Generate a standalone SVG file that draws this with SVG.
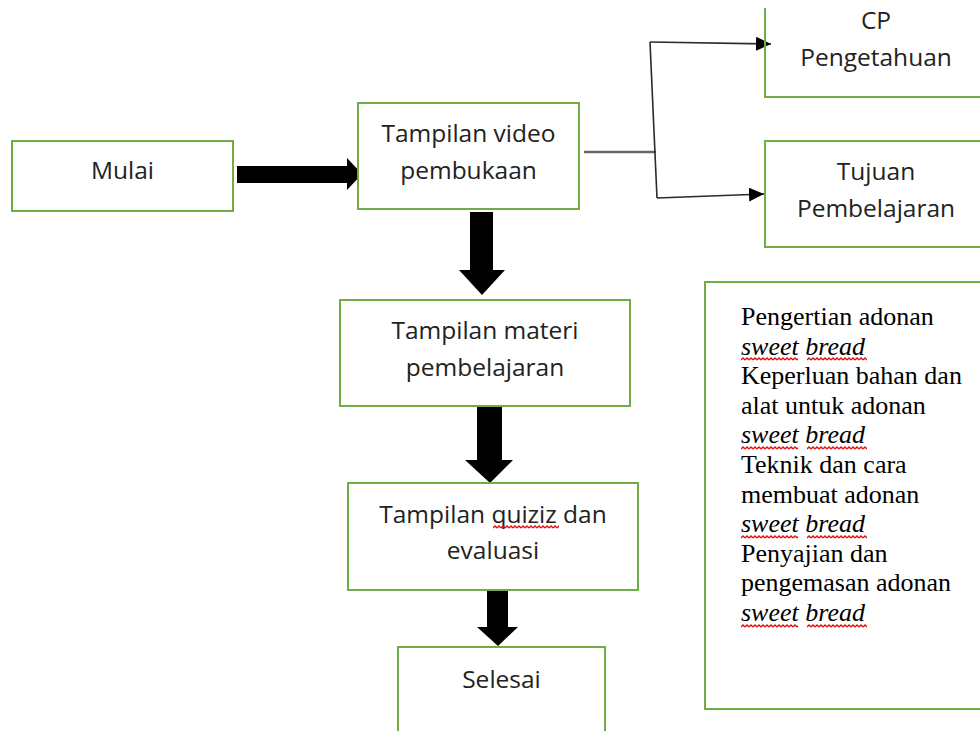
<svg xmlns="http://www.w3.org/2000/svg" width="980" height="731" viewBox="0 0 980 731">
<style>
  .box{fill:#fff;stroke:#70ad47;stroke-width:2}
  .lbl{font-family:"Open Sans","Noto Sans",sans-serif;font-size:24.5px;fill:#222;text-anchor:middle}
  .ser{font-family:"Liberation Serif","Times New Roman",serif;font-size:26px;fill:#000}
  .it{font-style:italic}
  .big{fill:#000}
  .thin{fill:none;stroke:#2a2a2a;stroke-width:1.6}
  .stub{fill:none;stroke:#666;stroke-width:2.6}
</style>
<defs>
  <pattern id="wv" width="4" height="4" patternUnits="userSpaceOnUse">
    <path d="M0 3 L2 1 L4 3" fill="none" stroke="#e01010" stroke-width="1.4"/>
  </pattern>
  <marker id="ah" markerWidth="15" markerHeight="14" refX="15" refY="7" orient="auto" markerUnits="userSpaceOnUse">
    <path d="M0 0 L15 7 L0 14 Z" fill="#000"/>
  </marker>
</defs>
<rect width="980" height="731" fill="#fff"/>

<g id="connectors">
  <polygon class="big" points="237,166 347,166 347,158 362,174 347,190 347,183 237,183"/>
  <polygon class="big" points="470,212 493,212 493,270 505,270 482,295 459,270 470,270"/>
  <polygon class="big" points="477,400 502,400 502,460 513,460 490,483 465,460 477,460"/>
  <polygon class="big" points="487,583 508,583 508,627 518,627 498,646 477,627 487,627"/>
  <path class="stub" d="M584 152 H656"/>
  <path class="thin" d="M650 42 L657 198"/>
  <path class="thin" d="M650 42 L771 44" marker-end="url(#ah)"/>
  <path class="thin" d="M657 198 L764 194" marker-end="url(#ah)"/>
</g>

<g id="mulai">
  <rect class="box" x="12" y="141" width="221" height="70"/>
  <text class="lbl" x="122.5" y="179">Mulai</text>
</g>

<g id="video">
  <rect class="box" x="358" y="103" width="221" height="106"/>
  <text class="lbl" x="468.5" y="142">Tampilan video</text>
  <text class="lbl" x="468.5" y="179">pembukaan</text>
</g>

<g id="materi">
  <rect class="box" x="340" y="300" width="290" height="106"/>
  <text class="lbl" x="485" y="339">Tampilan materi</text>
  <text class="lbl" x="485" y="376">pembelajaran</text>
</g>

<g id="quiziz">
  <rect class="box" x="348" y="483" width="290" height="107"/>
  <text class="lbl" x="493" y="523">Tampilan quiziz dan</text>
  <text class="lbl" x="493" y="559">evaluasi</text>
  <rect x="0" y="0" width="66" height="4" fill="url(#wv)" transform="translate(493,525)"/>
</g>

<g id="selesai">
  <rect class="box" x="398" y="647" width="207" height="100"/>
  <text class="lbl" x="501.5" y="688">Selesai</text>
</g>

<g id="cp">
  <path d="M765 8 V97 H982" fill="none" stroke="#70ad47" stroke-width="2"/>
  <text class="lbl" x="876" y="29">CP</text>
  <text class="lbl" x="876" y="66">Pengetahuan</text>
</g>

<g id="tujuan">
  <rect class="box" x="765" y="141" width="230" height="106"/>
  <text class="lbl" x="876" y="180">Tujuan</text>
  <text class="lbl" x="876" y="217">Pembelajaran</text>
</g>

<g id="materi-list">
  <rect class="box" x="705" y="282" width="300" height="427"/>
  <text class="ser" x="741" y="325">Pengertian adonan</text>
  <text class="ser it" x="741" y="354.6">sweet bread</text>
  <text class="ser" x="741" y="384.2">Keperluan bahan dan</text>
  <text class="ser" x="741" y="413.8">alat untuk adonan</text>
  <text class="ser it" x="741" y="443.4">sweet bread</text>
  <text class="ser" x="741" y="473">Teknik dan cara</text>
  <text class="ser" x="741" y="502.6">membuat adonan</text>
  <text class="ser it" x="741" y="532.2">sweet bread</text>
  <text class="ser" x="741" y="561.8">Penyajian dan</text>
  <text class="ser" x="741" y="591.4">pengemasan adonan</text>
  <text class="ser it" x="741" y="621">sweet bread</text>
  <rect x="0" y="0" width="57" height="4" fill="url(#wv)" transform="translate(741,357)"/>
  <rect x="0" y="0" width="60" height="4" fill="url(#wv)" transform="translate(807,357)"/>
  <rect x="0" y="0" width="57" height="4" fill="url(#wv)" transform="translate(741,446)"/>
  <rect x="0" y="0" width="60" height="4" fill="url(#wv)" transform="translate(807,446)"/>
  <rect x="0" y="0" width="57" height="4" fill="url(#wv)" transform="translate(741,535)"/>
  <rect x="0" y="0" width="60" height="4" fill="url(#wv)" transform="translate(807,535)"/>
  <rect x="0" y="0" width="57" height="4" fill="url(#wv)" transform="translate(741,624)"/>
  <rect x="0" y="0" width="60" height="4" fill="url(#wv)" transform="translate(807,624)"/>
</g>
</svg>
